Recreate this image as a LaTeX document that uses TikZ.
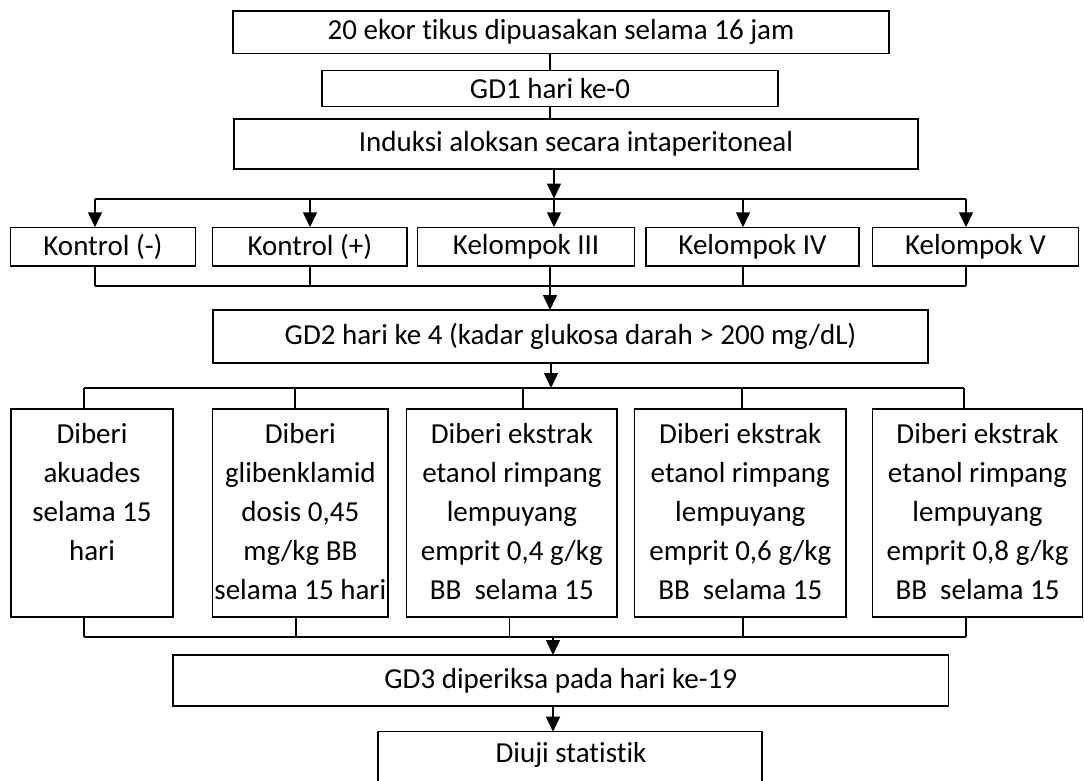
\documentclass[tikz,border=0pt]{standalone}
\usepackage{fontspec}
\setmainfont{Carlito}[Ligatures={NoCommon}]
\usetikzlibrary{arrows.meta}
\begin{document}
\begin{tikzpicture}[x=1pt,y=-1pt,
  font=\fontsize{29}{39}\selectfont,
  box/.style={draw, line width=1.3pt, inner sep=0pt, outer sep=0pt},
  txt/.style={anchor=north, align=center, inner sep=0pt},
  conn/.style={line width=1.4pt},
  bus/.style={line width=2pt},
  arr/.style={line width=1.5pt, -{Triangle[width=14pt,length=15pt]}}]
\useasboundingbox (0,0) rectangle (1084,781);
\clip (0,0) rectangle (1084,781);

% top chain
\node[box, minimum width=656pt, minimum height=42.5pt] (b1) at (561,32.2) {20 ekor tikus dipuasakan selama 16 jam};
\node[box, minimum width=456pt, minimum height=36pt] (b2) at (550,88.7) {GD1 hari ke-0};
\node[box, minimum width=684pt, minimum height=50pt] (b3) at (576,144) {Induksi aloksan secara intaperitoneal};
\coordinate (c12) at (550,0);
\draw[conn] (b1.south -| c12) -- (b2.north -| c12);
\draw[conn] (b2.south -| c12) -- (b3.north -| c12);

% first bus
\coordinate (j1) at (554,198.5);
\coordinate (bus1L) at (95,198.5);
\coordinate (bus1R) at (966,198.5);
\draw[bus] (bus1L) -- (bus1R);
\draw[arr] (b3.south -| j1) -- (j1);

% group row
\node[box, minimum width=185.3pt, minimum height=38.7pt] (k1) at (103,246.6) {Kontrol (-)};
\node[box, minimum width=194.3pt, minimum height=38.7pt] (k2) at (309.85,246.6) {Kontrol (+)};
\node[box, minimum width=217pt, minimum height=38.7pt] (k3) at (526.1,246.6) {Kelompok III};
\node[box, minimum width=213pt, minimum height=38.7pt] (k4) at (752.5,246.6) {Kelompok IV};
\node[box, minimum width=206pt, minimum height=38.7pt] (k5) at (975.5,246.6) {Kelompok V};

\coordinate (a1) at (95,198.5);
\coordinate (a2) at (310,198.5);
\coordinate (a3) at (554,198.5);
\coordinate (a4) at (743,198.5);
\coordinate (a5) at (966,198.5);
\draw[arr] (a1) -- (a1 |- k1.north);
\draw[arr] (a2) -- (a2 |- k2.north);
\draw[arr] (a3) -- (a3 |- k3.north);
\draw[arr] (a4) -- (a4 |- k4.north);
\draw[arr] (a5) -- (a5 |- k5.north);

% second bus
\coordinate (e1) at (95,286);
\coordinate (e2) at (310,286);
\coordinate (e3) at (550,286);
\coordinate (e4) at (743,286);
\coordinate (e5) at (966,286);
\draw[conn] (k1.south -| e1) -- (e1);
\draw[conn] (k2.south -| e2) -- (e2);
\draw[conn] (k3.south -| e3) -- (e3);
\draw[conn] (k4.south -| e4) -- (e4);
\draw[conn] (k5.south -| e5) -- (e5);
\draw[bus] (e1) -- (e5);

\node[box, minimum width=715pt, minimum height=53pt] (g2) at (570.5,336.5) {GD2 hari ke 4 (kadar glukosa darah > 200 mg/dL)};
\draw[arr] (e3) -- (e3 |- g2.north);

% third bus
\coordinate (f0) at (551,388);
\coordinate (f1) at (84,388);
\coordinate (f2) at (295,388);
\coordinate (f3) at (523,388);
\coordinate (f4) at (742,388);
\coordinate (f5) at (964,388);
\draw[arr] (g2.south -| f0) -- (f0);
\draw[bus] (f1) -- (f5);

% treatment row
\node[box, minimum width=162pt, minimum height=208pt] (d1) at (92,513) {};
\node[box, minimum width=175.3pt, minimum height=208pt] (d2) at (300.35,513) {};
\node[box, minimum width=210.3pt, minimum height=208pt] (d3) at (511.85,513) {};
\node[box, minimum width=211.4pt, minimum height=208pt] (d4) at (740.3,513) {};
\node[box, minimum width=210pt, minimum height=208pt] (d5) at (977.55,513) {};

\draw[conn] (f1) -- (f1 |- d1.north);
\draw[conn] (f2) -- (f2 |- d2.north);
\draw[conn] (f3) -- (f3 |- d3.north);
\draw[conn] (f4) -- (f4 |- d4.north);
\draw[conn] (f5) -- (f5 |- d5.north);

\node[txt] (t1) at ([yshift=-6.5pt]d1.north) {\strut Diberi\\\strut akuades\\\strut selama 15\\\strut hari};
\node[txt] (t2) at ([yshift=-6.5pt]d2.north) {\strut Diberi\\\strut glibenklamid\\\strut dosis 0,45\\\strut mg/kg BB\\\strut selama 15 hari};
\node[txt] (t3) at ([yshift=-6.5pt]d3.north) {\strut Diberi ekstrak\\\strut etanol rimpang\\\strut lempuyang\\\strut emprit 0,4 g/kg\\\strut BB\ \ selama 15};
\node[txt] (t4) at ([yshift=-6.5pt]d4.north) {\strut Diberi ekstrak\\\strut etanol rimpang\\\strut lempuyang\\\strut emprit 0,6 g/kg\\\strut BB\ \ selama 15};
\node[txt] (t5) at ([yshift=-6.5pt]d5.north) {\strut Diberi ekstrak\\\strut etanol rimpang\\\strut lempuyang\\\strut emprit 0,8 g/kg\\\strut BB\ \ selama 15};

% fourth bus
\coordinate (h1) at (84,637);
\coordinate (h2) at (296,637);
\coordinate (h3) at (509.5,637);
\coordinate (h4) at (743,637);
\coordinate (h5) at (966,637);
\coordinate (h0) at (553,637);
\draw[conn] (d1.south -| h1) -- (h1);
\draw[conn] (d2.south -| h2) -- (h2);
\draw[conn] (d3.south -| h3) -- (h3);
\draw[conn] (d4.south -| h4) -- (h4);
\draw[conn] (d5.south -| h5) -- (h5);
\draw[bus] (h1) -- (h5);

\node[box, minimum width=775.5pt, minimum height=51pt] (g3) at (560.75,680.5) {GD3 diperiksa pada hari ke-19};
\draw[arr] (h0) -- (h0 |- g3.north);

\node[box, minimum width=384pt, minimum height=70pt] (st) at (570,766.7) {};
\node[inner sep=0pt] (stt) at (571,755) {Diuji statistik};
\draw[arr] (g3.south -| h0) -- (h0 |- st.north);
\end{tikzpicture}
\end{document}
